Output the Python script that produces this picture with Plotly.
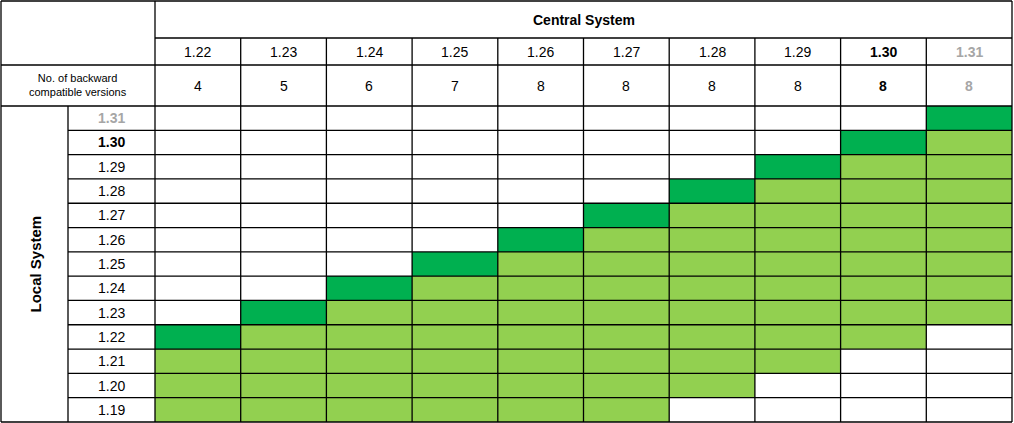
import plotly.graph_objects as go

central = ["1.22","1.23","1.24","1.25","1.26","1.27","1.28","1.29","1.30","1.31"]
backward = [4,5,6,7,8,8,8,8,8,8]
local = ["1.31","1.30","1.29","1.28","1.27","1.26","1.25","1.24","1.23","1.22","1.21","1.20","1.19"]
bold_v = "1.30"; gray_v = "1.31"

W, H = 1014, 423
x0, xl, xb, xr = 1, 68, 155, 1012
ys = [1, 38, 65, 106]
yb_end = 422
cw = (xr - xb) / len(central)
rh = (yb_end - ys[3]) / len(local)
xe = [xb + i*cw for i in range(len(central)+1)]
ye = [ys[3] + i*rh for i in range(len(local)+1)]

vals = {v: i for i, v in enumerate(["1.19","1.20","1.21"] + central)}
z = []
for lv in local:
    row = []
    for cv, b in zip(central, backward):
        d = vals[cv] - vals[lv]
        row.append(2 if d == 0 else (1 if 0 < d <= b else 0))
    z.append(row)

fig = go.Figure(go.Heatmap(x=xe, y=ye, z=z, zmin=0, zmax=2, showscale=False, hoverinfo="skip",
    colorscale=[[0,"#ffffff"],[0.33,"#ffffff"],[0.34,"#92d050"],[0.66,"#92d050"],[0.67,"#00b050"],[1,"#00b050"]]))

shapes = []
def ln(a, b, c, d):
    shapes.append(dict(type="line", x0=a, y0=b, x1=c, y1=d, line=dict(color="black", width=1.3), xref="x", yref="y"))
ln(x0, ys[0], xr, ys[0]); ln(x0, yb_end, xr, yb_end)
ln(x0, ys[0], x0, yb_end); ln(xr, ys[0], xr, yb_end)
ln(xb, ys[0], xb, yb_end)
ln(xb, ys[1], xr, ys[1])
ln(x0, ys[2], xr, ys[2]); ln(x0, ys[3], xr, ys[3])
ln(xl, ys[3], xl, yb_end)
for x in xe[1:-1]:
    ln(x, ys[1], x, yb_end)
for y in ye[1:-1]:
    ln(xl, y, xr, y)

F = "Liberation Sans, Arial"
ann = []
def tx(x, y, t, size=13, color="black", bold=False, angle=0):
    if bold: t = "<b>%s</b>" % t
    ann.append(dict(x=x, y=y, text=t, showarrow=False, xref="x", yref="y", textangle=angle,
                    font=dict(family=F, size=size, color=color)))
def style(v):
    return ("#a6a6a6", True) if v == gray_v else (("black", True) if v == bold_v else ("black", False))

tx((xb+xr)/2, 20, "Central System", 14, bold=True)
for i, (v, b) in enumerate(zip(central, backward)):
    c, bo = style(v)
    cx = (xe[i]+xe[i+1])/2
    tx(cx, 52, v, 14, c, bo)
    tx(cx, 86, str(b), 14, c, bo)
tx((x0+xb)/2, 85, "No. of backward<br>compatible versions", 11)
for j, v in enumerate(local):
    c, bo = style(v)
    tx((xl+xb)/2, (ye[j]+ye[j+1])/2, v, 14, c, bo)
tx((x0+xl)/2, (ys[3]+yb_end)/2, "Local System", 15, bold=True, angle=-90)

fig.update_layout(width=W, height=H, margin=dict(l=0, r=0, t=0, b=0),
    paper_bgcolor="white", plot_bgcolor="white", shapes=shapes, annotations=ann,
    xaxis=dict(range=[0, W], visible=False, fixedrange=True),
    yaxis=dict(range=[H, 0], visible=False, fixedrange=True))
fig.write_html("out.html", config={"displayModeBar": False},
               post_script="document.body.style.margin='0';document.body.style.overflow='hidden';")
